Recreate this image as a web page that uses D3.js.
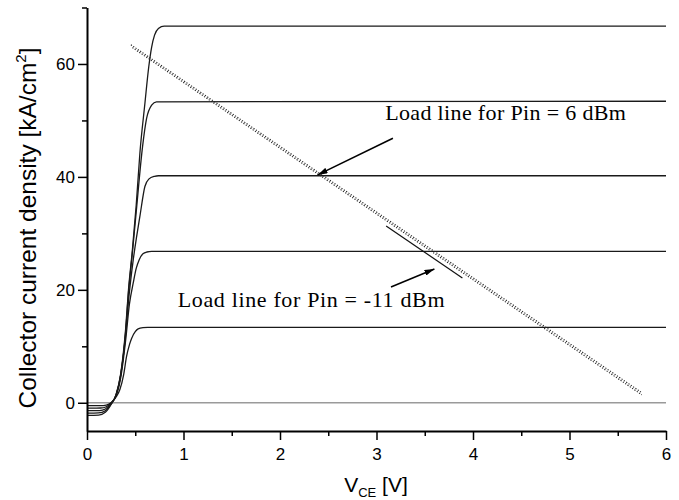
<!DOCTYPE html>
<html>
<head>
<meta charset="utf-8">
<script src="https://cdn.jsdelivr.net/npm/d3@7"></script>
<style>
  body { margin: 0; background: #fff; }
  svg { display: block; }
</style>
</head>
<body>
<svg></svg>
<script>
// output characteristics: [V_CE, J_C], one per base drive
const curve13 = [[0,-0.5],[0.14,-0.5],[0.2,-0.4],[0.25,0],[0.3,1],[0.34,2.3],[0.38,5],[0.41,8.2],[0.44,10.3],[0.462,11.4],[0.5,12.6],[0.53,13.1],[0.58,13.3],[0.63,13.35],[6,13.35]];
const curve27 = [[0,-0.95],[0.14,-0.93],[0.2,-0.7],[0.25,0],[0.3,1.2],[0.35,4.5],[0.4,11],[0.44,17.5],[0.48,21.3],[0.51,23.8],[0.54,25.3],[0.58,26.4],[0.62,26.7],[0.67,26.8],[6,26.8]];
const curve40 = [[0,-1.4],[0.13,-1.38],[0.19,-1.1],[0.25,-0.1],[0.3,1.3],[0.35,5],[0.4,12],[0.43,18],[0.479,25.3],[0.515,29.5],[0.548,33],[0.6,38.3],[0.64,39.6],[0.7,40.1],[0.74,40.2],[6,40.2]];
const curve53 = [[0,-1.85],[0.12,-1.8],[0.19,-1.4],[0.25,-0.2],[0.3,1.3],[0.35,5],[0.4,12.5],[0.43,19.5],[0.47,26.5],[0.51,33.8],[0.576,45.4],[0.617,50.3],[0.67,52.7],[0.72,53.3],[6,53.4]];
const curve67 = [[0,-2.25],[0.12,-2.2],[0.19,-1.7],[0.25,-0.3],[0.3,1.4],[0.35,5.2],[0.4,13],[0.43,20],[0.47,27],[0.51,35],[0.548,44.2],[0.6,53],[0.64,59.5],[0.67,63],[0.7,65.1],[0.74,66.3],[0.8,66.7],[6,66.7]];
const curves = [curve13, curve27, curve40, curve53, curve67];

// the two (nearly overlapping) dotted load lines, and the short small-signal segment
const loadLine6 = [[0.455,63.4],[5.74,1.9]];
const loadLineM11 = [[0.47,62.9],[5.75,1.4]];
const smallSignal = [[3.10,31.3],[3.89,22.1]];
const zeroLine = [[0,0],[6,0]];

// annotations
const note6 = "Load line for Pin = 6 dBm";
const noteM11 = "Load line for Pin = -11 dBm";
const arrow6 = [[3.17,46.85],[2.39,40.35]];
const arrowM11 = [[3.15,20.5],[3.6,23.7]];

const xMajor = [0,1,2,3,4,5,6];
const xMinor = [0.5,1.5,2.5,3.5,4.5,5.5];
const yMajor = [0,20,40,60];
const yMinor = [10,30,50,70];

let margin = {top: 7.5, right: 13, bottom: 69, left: 87};
let width = 679 - margin.left - margin.right,
    height = 500 - margin.top - margin.bottom;

let root = d3.select('svg')
  .attr('width', 679)
  .attr('height', 500);
let svg = root.append('g')
  .attr('transform', `translate(${margin.left},${margin.top})`);

let xScale = d3.scaleLinear().domain([0,6]).range([0,width]);
let yScale = d3.scaleLinear().domain([-5,70]).range([height,0]);

let line = d3.line()
  .x(d => xScale(d[0]))
  .y(d => yScale(d[1]));
let smooth = d3.line()
  .x(d => xScale(d[0]))
  .y(d => yScale(d[1]))
  .curve(d3.curveMonotoneX);

// zero line (grey)
svg.append('path')
  .datum(zeroLine)
  .attr('d', line)
  .attr('fill', 'none')
  .attr('stroke', '#9a9a9a')
  .attr('stroke-width', 1.6);

// characteristic curves
svg.append('g')
  .selectAll('path')
  .data(curves)
  .enter()
  .append('path')
    .attr('d', smooth)
    .attr('fill', 'none')
    .attr('stroke', '#1a1a1a')
    .attr('stroke-width', 1.3);

// dotted load lines
svg.append('g')
  .selectAll('path')
  .data([loadLine6, loadLineM11])
  .enter()
  .append('path')
    .attr('d', line)
    .attr('fill', 'none')
    .attr('stroke', '#222')
    .attr('stroke-width', 1.1)
    .attr('stroke-dasharray', '1.2,1.6');

svg.append('path')
  .datum(smallSignal)
  .attr('d', line)
  .attr('fill', 'none')
  .attr('stroke', '#111')
  .attr('stroke-width', 1.2);

// arrows
root.append('defs').append('marker')
  .attr('id', 'head')
  .attr('viewBox', '0 0 10 6')
  .attr('refX', 10).attr('refY', 3)
  .attr('markerUnits', 'userSpaceOnUse')
  .attr('markerWidth', 10).attr('markerHeight', 6)
  .attr('orient', 'auto')
  .append('path')
    .attr('d', 'M0,0L10,3L0,6Z')
    .attr('fill', '#000');

svg.append('g')
  .selectAll('path')
  .data([arrow6, arrowM11])
  .enter()
  .append('path')
    .attr('d', line)
    .attr('stroke', '#000')
    .attr('stroke-width', 1.5)
    .attr('marker-end', 'url(#head)');

svg.append('text')
  .attr('x', xScale(3.09))
  .attr('y', yScale(50.1))
  .style('font-family', '"Liberation Serif", "Times New Roman", serif')
  .style('font-size', '22px')
  .style('letter-spacing', '0.35px')
  .text(note6);
svg.append('text')
  .attr('x', xScale(0.94))
  .attr('y', yScale(16.9))
  .style('font-family', '"Liberation Serif", "Times New Roman", serif')
  .style('font-size', '22px')
  .style('letter-spacing', '0.65px')
  .text(noteM11);

// axes
let xg = svg.append('g')
  .attr('transform', `translate(0,${height})`)
  .call(d3.axisBottom(xScale).tickValues(xMajor).tickSize(9).tickSizeOuter(0).tickPadding(8).tickFormat(d3.format('d')));
svg.append('g')
  .attr('transform', `translate(0,${height})`)
  .call(d3.axisBottom(xScale).tickValues(xMinor).tickSize(5).tickFormat(''))
  .call(g => g.select('.domain').remove());

let yg = svg.append('g')
  .call(d3.axisLeft(yScale).tickValues(yMajor).tickSize(9).tickSizeOuter(0).tickPadding(3).tickFormat(d3.format('d')));
svg.append('g')
  .call(d3.axisLeft(yScale).tickValues(yMinor).tickSize(5).tickFormat(''))
  .call(g => g.select('.domain').remove());

svg.selectAll('.domain').attr('stroke', '#000').attr('stroke-width', 2);
svg.selectAll('.tick line').attr('stroke', '#000').attr('stroke-width', 1.5);
svg.selectAll('.tick text')
  .attr('fill', '#000')
  .style('font-family', '"Liberation Sans", Arial, sans-serif')
  .style('font-size', '17px');

// axis titles
let yt = root.append('text')
  .attr('transform', 'translate(36,228) rotate(-90)')
  .attr('text-anchor', 'middle')
  .style('font-family', '"Liberation Sans", Arial, sans-serif')
  .style('font-size', '24.5px');
yt.append('tspan').text('Collector current density [kA/cm');
yt.append('tspan').attr('dy', -10).style('font-size', '15px').text('2');
yt.append('tspan').attr('dy', 10).text(']');

let xt = root.append('text')
  .attr('x', 376)
  .attr('y', 492)
  .attr('text-anchor', 'middle')
  .style('font-family', '"Liberation Sans", Arial, sans-serif')
  .style('font-size', '21px');
xt.append('tspan').text('V');
xt.append('tspan').attr('dy', 5).style('font-size', '13px').text('CE');
xt.append('tspan').attr('dy', -5).text(' [V]');
</script>
</body>
</html>
